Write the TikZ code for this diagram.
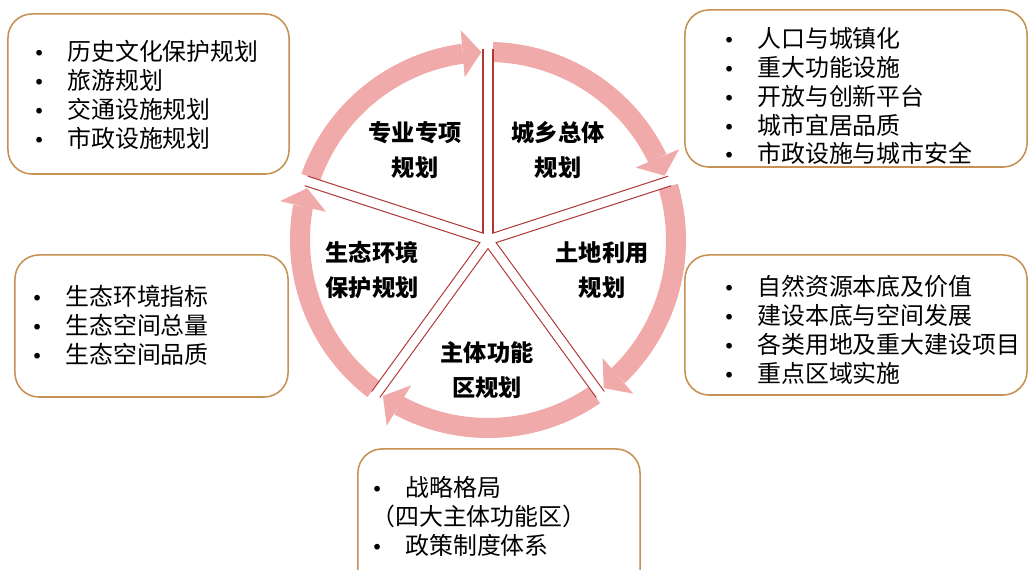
\documentclass[tikz,border=0pt]{standalone}
\usepackage{fontspec}
\setmainfont{Noto Sans CJK SC}
\newfontfamily\symfont{DejaVu Sans}
\usetikzlibrary{arrows.meta,bending}

\definecolor{arrowpink}{RGB}{241,170,170}
\definecolor{divline}{RGB}{175,55,55}
\definecolor{boxline}{RGB}{198,145,82}

\newcommand{\itm}{\makebox[0.85cm][l]{{\symfont\fontsize{14pt}{14pt}\selectfont •}}}

\begin{document}
\begin{tikzpicture}[
    x=0.025cm, y=0.025cm,
    box/.style={rectangle, draw=boxline, line width=1.1pt, rounded corners=0.6cm, fill=white},
    listtext/.style={anchor=west, align=left, inner sep=0pt, font=\fontsize{17pt}{20.6pt}\selectfont},
    sector/.style={align=center, inner sep=0pt, font=\bfseries\fontsize{16.5pt}{24.5pt}\selectfont},
    ringarrow/.style={line width=0.5cm, draw=arrowpink, -{Triangle[width=1.18cm, length=0.47cm, line width=0pt]}},
    divedge/.style={line width=0.22cm+1.6pt, draw=divline},
    divgap/.style={line width=0.22cm, draw=white}
]
\clip (0,0) rectangle (1031,570);

% Centre of the cycle
\coordinate (C) at (488,330);

% Ring of arrows (clockwise)
\draw[ringarrow] (C) ++(160.5:188) arc[start angle=160.5, end angle=92, radius=188];
\draw[ringarrow] (C) ++(88.5:188) arc[start angle=88.5, end angle=20, radius=188];
\draw[ringarrow] (C) ++(16.5:188) arc[start angle=16.5, end angle=-52, radius=188];
\draw[ringarrow] (C) ++(-55.5:188) arc[start angle=-55.5, end angle=-124, radius=188];
\draw[ringarrow] (C) ++(-127.5:188) arc[start angle=-127.5, end angle=-196, radius=188];

% Dividers between the sectors
\foreach \a in {90,18,-54,-126,162}
    \draw[divedge] (C) -- ++(\a:191);
\foreach \a in {90,18,-54,-126,162}
    \draw[divgap] (C) -- ++(\a:200);

% Sector labels
\node[sector] (zhuanxiang) at (415,420) {专业专项\\规划};
\node[sector] (zongti) at (558,420) {城乡总体\\规划};
\node[sector] (tudi) at (602,300) {土地利用\\规划};
\node[sector] (shengtai) at (372,300) {生态环境\\保护规划};
\node[sector] (gongneng) at (487,200) {主体功能\\区规划};

% Boxes
\node[box, minimum width=7.025cm, minimum height=4cm] (zhuanxiangbox) at (148.5,476) {};
\node[box, minimum width=8.55cm, minimum height=3.925cm] (zongtibox) at (856,481.5) {};
\node[box, minimum width=6.825cm, minimum height=3.55cm] (shengtaibox) at (151.5,244) {};
\node[box, minimum width=8.55cm, minimum height=3.5cm] (tudibox) at (856,245) {};
\node[box, minimum width=7.05cm, minimum height=4.025cm] (gongnengbox) at (499,40.5) {};

% Box contents
\node[listtext] (zhuanxianglist) at (33,475.5) {\itm 历史文化保护规划\\ \itm 旅游规划\\ \itm 交通设施规划\\ \itm 市政设施规划};
\node[listtext] (zongtilist) at (723,474) {\itm 人口与城镇化\\ \itm 重大功能设施\\ \itm 开放与创新平台\\ \itm 城市宜居品质\\ \itm 市政设施与城市安全};
\node[listtext] (shengtailist) at (31,245) {\itm 生态环境指标\\ \itm 生态空间总量\\ \itm 生态空间品质};
\node[listtext] (tudilist) at (723,240.5) {\itm 自然资源本底及价值\\ \itm 建设本底与空间发展\\ \itm 各类用地及重大建设项目\\ \itm 重点区域实施};
\node[listtext] (gongnenglist) at (371,53.5) {\itm 战略格局\\（四大主体功能区）\\ \itm 政策制度体系};

\end{tikzpicture}
\end{document}
